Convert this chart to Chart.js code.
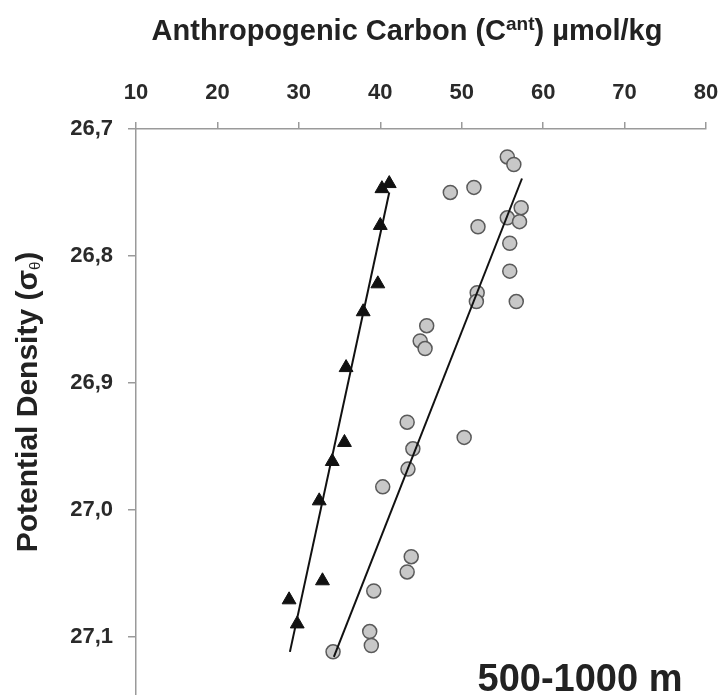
<!DOCTYPE html>
<html>
<head>
<meta charset="utf-8">
<script src="https://cdn.jsdelivr.net/npm/chart.js@4/dist/chart.umd.min.js"></script>
<style>
  html, body { margin: 0; padding: 0; background: #fff; }
  #wrap { width: 720px; height: 695px; }
</style>
</head>
<body>
<div id="wrap"><canvas id="chartCant" width="720" height="695"></canvas></div>
<script>
// tick labels
const xTicks = [10, 20, 30, 40, 50, 60, 70, 80];
const yTicks = [26.7, 26.8, 26.9, 27.0, 27.1];

// triangles (black)
const triX = [41.1, 40.2, 40.0, 39.7, 37.9, 35.8, 35.6, 34.1, 32.5, 32.9, 28.8, 29.8];
const triY = [26.743, 26.747, 26.776, 26.822, 26.844, 26.888, 26.947, 26.962, 26.993, 27.056, 27.071, 27.090];

// circles (grey)
const circX = [55.6, 56.4, 48.6, 51.5, 57.3, 55.6, 57.1, 52.0, 55.9, 55.9, 51.9, 51.8, 56.7, 45.7, 44.9, 45.5, 43.3, 50.3, 44.0, 43.4, 40.3, 43.8, 43.3, 39.2, 38.7, 38.9, 34.2];
const circY = [26.722, 26.728, 26.750, 26.746, 26.762, 26.770, 26.773, 26.777, 26.790, 26.812, 26.829, 26.836, 26.836, 26.855, 26.867, 26.873, 26.931, 26.943, 26.952, 26.968, 26.982, 27.037, 27.049, 27.064, 27.096, 27.107, 27.112];

// regression lines (end points)
const triLineX = [41.1, 28.9];
const triLineY = [26.750, 27.112];
const circLineX = [57.4, 34.3];
const circLineY = [26.739, 27.116];

const toPts = (xs, ys) => xs.map((x, i) => ({ x, y: ys[i] }));

const FONT = "'Liberation Sans', Arial, sans-serif";

// axes have fixed size and no label overhang padding
const fixAxis = (w, h) => (s) => {
  if (w) s.width = w;
  if (h) s.height = h;
  s.paddingTop = s.paddingBottom = s.paddingLeft = s.paddingRight = 0;
};

// titles with super/subscripts drawn as text
const textPlugin = {
  id: "texts",
  afterDraw(chart) {
    const ctx = chart.ctx;
    ctx.save();
    ctx.fillStyle = "#222";
    ctx.textBaseline = "alphabetic";
    ctx.textAlign = "left";

    // top title
    const big = "bold 29px " + FONT, small = "bold 19px " + FONT;
    const parts = [["Anthropogenic Carbon (C", big, 0], ["ant", small, -10], [") µmol/kg", big, 0]];
    let w = 0;
    parts.forEach(p => { ctx.font = p[1]; w += ctx.measureText(p[0]).width; });
    let x = 407 - w / 2;
    parts.forEach(p => { ctx.font = p[1]; ctx.fillText(p[0], x, 40 + p[2]); x += ctx.measureText(p[0]).width; });

    // y title (rotated)
    ctx.save();
    ctx.translate(37, 402);
    ctx.rotate(-Math.PI / 2);
    const yparts = [["Potential Density (σ", "bold 30px " + FONT, 0], ["θ", "15px " + FONT, 3], [")", "bold 30px " + FONT, 0]];
    w = 0;
    yparts.forEach(p => { ctx.font = p[1]; w += ctx.measureText(p[0]).width; });
    x = -w / 2;
    yparts.forEach(p => { ctx.font = p[1]; ctx.fillText(p[0], x, p[2]); x += ctx.measureText(p[0]).width; });
    ctx.restore();

    // depth label
    ctx.font = "bold 38px " + FONT;
    ctx.textAlign = "center";
    ctx.fillText("500-1000 m", 580, 691);
    ctx.restore();
  }
};

const ctx = document.getElementById("chartCant").getContext("2d");

new Chart(ctx, {
  type: "scatter",
  data: {
    datasets: [
      {
        label: "fit triangles",
        data: toPts(triLineX, triLineY),
        showLine: true,
        borderColor: "#111",
        borderWidth: 2,
        pointRadius: 0,
        order: 0
      },
      {
        label: "fit circles",
        data: toPts(circLineX, circLineY),
        showLine: true,
        borderColor: "#111",
        borderWidth: 2,
        pointRadius: 0,
        order: 0
      },
      {
        label: "triangles",
        data: toPts(triX, triY),
        pointStyle: "triangle",
        pointRadius: 8,
        backgroundColor: "#111",
        borderColor: "#111",
        borderWidth: 1,
        order: 2
      },
      {
        label: "circles",
        data: toPts(circX, circY),
        pointStyle: "circle",
        pointRadius: 7,
        backgroundColor: "#c8c8c8",
        borderColor: "#5a5a5a",
        borderWidth: 1.5,
        order: 2
      }
    ]
  },
  options: {
    responsive: false,
    animation: false,
    layout: { autoPadding: false, padding: { left: 0, top: 0, right: 14, bottom: 0 } },
    plugins: {
      legend: { display: false },
      tooltip: { enabled: false }
    },
    scales: {
      x: {
        type: "linear",
        position: "top",
        min: 10,
        max: 80,
        afterFit: fixAxis(0, 129),
        afterBuildTicks: (s) => { s.ticks = xTicks.map(v => ({ value: v })); },
        grid: { drawOnChartArea: false, drawTicks: true, tickLength: 7, color: "#9a9a9a", lineWidth: 1.5 },
        border: { display: true, color: "#9a9a9a", width: 1.5 },
        ticks: {
          color: "#2a2a2a",
          padding: 16,
          maxRotation: 0,
          font: { family: FONT, size: 22, weight: "bold" },
          callback: (v) => String(v)
        }
      },
      y: {
        type: "linear",
        reverse: true,
        min: 26.7,
        max: 27.146,
        afterFit: fixAxis(136, 0),
        afterBuildTicks: (s) => { s.ticks = yTicks.map(v => ({ value: v })); },
        grid: { drawOnChartArea: false, drawTicks: true, tickLength: 8, color: "#9a9a9a", lineWidth: 1.5 },
        border: { display: true, color: "#9a9a9a", width: 1.5 },
        ticks: {
          color: "#2a2a2a",
          padding: 15,
          font: { family: FONT, size: 22, weight: "bold" },
          callback: (v) => v.toFixed(1).replace(".", ",")
        }
      }
    }
  },
  plugins: [textPlugin]
});
</script>
</body>
</html>
